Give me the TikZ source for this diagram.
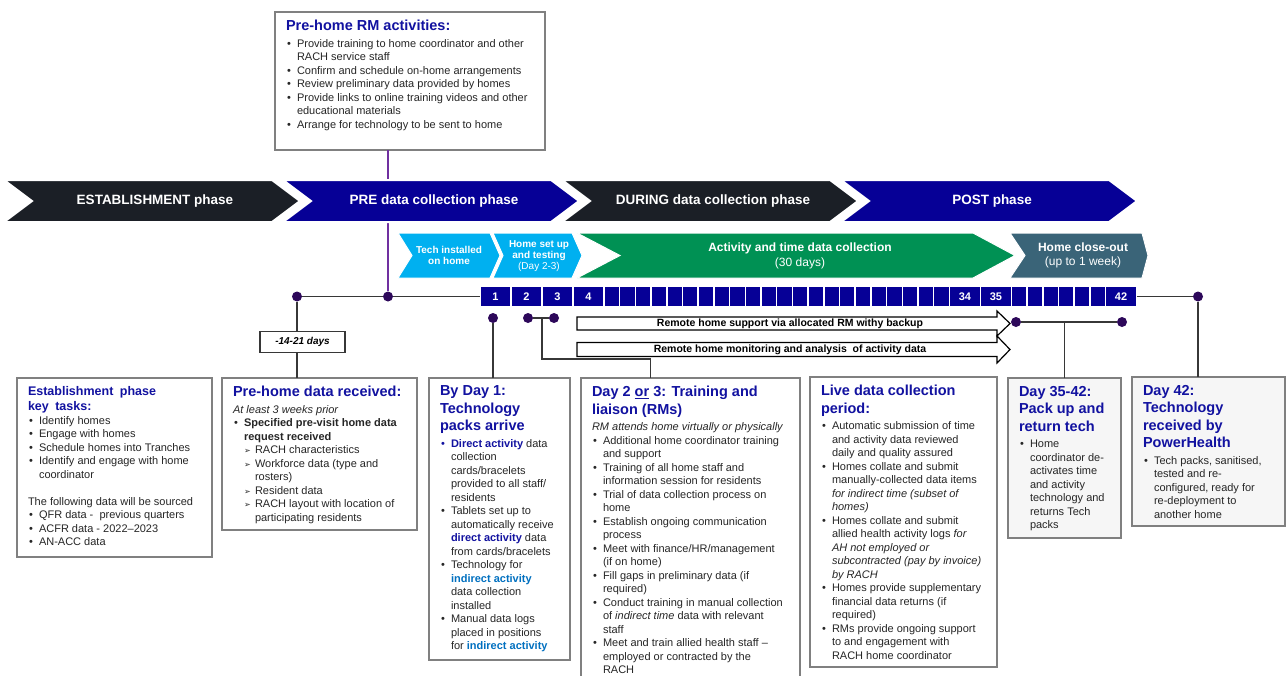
\documentclass[tikz,border=0pt]{standalone}
\usepackage{fontspec}
\setmainfont{Liberation Sans}
\newfontfamily\symfont{DejaVu Sans}
\usepackage{enumitem}
\usetikzlibrary{positioning}

\definecolor{phasedark}{RGB}{27,31,38}
\definecolor{phaseblue}{RGB}{6,0,150}
\definecolor{subcyan}{RGB}{0,176,240}
\definecolor{subgreen}{RGB}{0,145,84}
\definecolor{subslate}{RGB}{58,100,120}
\definecolor{titleblue}{RGB}{18,18,160}
\definecolor{lightblue}{RGB}{0,112,192}
\definecolor{dotpurple}{RGB}{45,8,90}
\definecolor{linkgray}{RGB}{55,55,55}
\definecolor{boxgray}{RGB}{128,128,128}
\definecolor{purpleline}{RGB}{112,48,160}
\definecolor{boxfill}{RGB}{246,246,246}
\definecolor{textgray}{RGB}{38,38,38}

\setlist[itemize,1]{nosep, leftmargin=11pt, labelwidth=6pt, labelsep=4pt, align=left, label={\textbullet}}
\setlist[itemize,2]{nosep, leftmargin=11pt, labelwidth=9pt, labelsep=2pt, align=left, label={\symfont\footnotesize ➢}}

\newcommand{\bodyfont}{\fontsize{11}{13.5}\selectfont}
\newcommand{\boxtitle}[1]{{\fontsize{14.5}{17.5}\selectfont\bfseries\color{titleblue}#1\par}\vspace{3pt}}
\newcommand{\boxbody}[3]{\parbox[t][#2][t]{#1}{\raggedright\bodyfont #3}}
\newcommand{\dact}[1]{\textbf{\textcolor{titleblue}{#1}}}
\newcommand{\iact}[1]{\textbf{\textcolor{lightblue}{#1}}}

\begin{document}
\begin{tikzpicture}[x=1pt, y=-1pt,
  tdot/.style={circle, fill=dotpurple, inner sep=0pt, minimum size=10pt},
  conn/.style={draw=linkgray, line width=1.3pt},
  infobox/.style={draw=boxgray, line width=1.8pt, fill=white, text=textgray, anchor=north west, inner xsep=11pt, inner ysep=8pt, outer sep=0pt},
  daycell/.style={fill=phaseblue, draw=white, line width=1.5pt, outer sep=0pt, inner sep=0pt, minimum height=20pt, text=white, font=\fontsize{11}{11}\selectfont\bfseries},
  bigday/.style={daycell, minimum width=31pt},
  smallday/.style={daycell, minimum width=15.7pt},
  phasetext/.style={text=white, font=\fontsize{13.5}{16}\selectfont\bfseries},
  subtext/.style={text=white, align=center, font=\fontsize{10}{11}\selectfont\bfseries},
  remote/.style={fill=white, draw=black, line width=1.2pt},
  remotetext/.style={inner sep=0pt, font=\fontsize{10.5}{12}\selectfont\bfseries}]
  \useasboundingbox (0,0) rectangle (1287,675);

  \node[infobox] (prebox) at (275,12) {\boxbody{248pt}{122pt}{%
    \boxtitle{Pre-home RM activities:}
    \begin{itemize}
      \item Provide training to home coordinator and other\\ RACH service staff
      \item Confirm and schedule on-home arrangements
      \item Review preliminary data provided by homes
      \item Provide links to online training videos and other\\ educational materials
      \item Arrange for technology to be sent to home
    \end{itemize}}};

  \node[tdot] (d1) at (297,296.5) {};
  \node[tdot] (d2) at (388,296.5) {};
  \draw[draw=purpleline, line width=1.3pt] (d2) -- (d2 |- prebox.south);

  % the four phases
  \foreach \x/\col/\txt [count=\i] in {4/phasedark/ESTABLISHMENT phase, 283/phaseblue/PRE data collection phase, 562/phasedark/DURING data collection phase, 841/phaseblue/POST phase} {
    \path[fill=\col, draw=white, line width=2pt] (\x,180) -- ++(268,0) -- ++(28,21) -- ++(-28,21) -- ++(-268,0) -- ++(28,-21) -- cycle;
    \node[phasetext] (phase\i) at (\x+151,201) {\txt};
  }

  \path[fill=subcyan, draw=white, line width=1pt] (398,233) -- (490,233) -- (500,255.5) -- (490,278) -- (398,278) -- (412,255.5) -- cycle;
  \node[subtext] (sub1) at (449,255.5) {Tech installed\\on home};
  \path[fill=subcyan, draw=white, line width=1pt] (493,233) -- (572,233) -- (582,255.5) -- (572,278) -- (493,278) -- (503,255.5) -- cycle;
  \node[subtext] (sub2) at (539,256.5) {Home set up\\and testing\\{\mdseries(Day 2-3)}};
  \path[fill=subgreen, draw=white, line width=1pt] (577,233) -- (973,233) -- (1015,255.5) -- (973,278) -- (577,278) -- (620,255.5) -- cycle;
  \node[subtext, font=\fontsize{12}{14.5}\selectfont\bfseries] (sub3) at (800,256) {Activity and time data collection\\{\mdseries(30 days)}};
  \path[fill=subslate, draw=white, line width=1pt] (1010,233) -- (1142,233) -- (1148,255.5) -- (1142,278) -- (1010,278) -- (1025,255.5) -- cycle;
  \node[subtext, font=\fontsize{12}{14}\selectfont\bfseries] (sub4) at (1083,255.5) {Home close-out\\{\mdseries(up to 1 week)}};

  % day row
  \node[bigday, anchor=west] (c1) at (480,296.5) {1};
  \foreach \i [remember=\i as \j (initially 1)] in {2,3,4}
    \node[bigday, right=0pt of c\j] (c\i) {\i};
  \foreach \i [remember=\i as \j (initially 4)] in {5,...,26}
    \node[smallday, right=0pt of c\j] (c\i) {};
  \node[bigday, right=0pt of c26] (c27) {34};
  \node[bigday, right=0pt of c27] (c28) {35};
  \foreach \i [remember=\i as \j (initially 28)] in {29,...,34}
    \node[smallday, right=0pt of c\j] (c\i) {};
  \node[bigday, right=0pt of c34] (c35) {42};

  \draw[conn] (d1) -- (d2) -- (c1);
  \node[tdot] (d3) at (1198,296.5) {};
  \draw[conn] (c35) -- (d3);

  \node[tdot] (t1) at (493,318) {};
  \node[tdot] (t2) at (528,318) {};
  \node[tdot] (t3) at (554,318) {};
  \draw[conn] (t2) -- (t3);
  \coordinate (t23) at (542,318);

  \path[remote] (577,317) -- (997,317) -- (997,311) -- (1010,323.5) -- (997,336) -- (997,330) -- (577,330) -- cycle;
  \node[remotetext] (rm1) at (790,323.5) {Remote home support via allocated RM withy backup};
  \path[remote] (577,342.5) -- (997,342.5) -- (997,336) -- (1010,349.5) -- (997,363) -- (997,356.5) -- (577,356.5) -- cycle;
  \node[remotetext] (rm2) at (790,349.5) {Remote home monitoring and analysis \ of activity data};

  \node[tdot] (r1) at (1016,322) {};
  \node[tdot] (r2) at (1122,322) {};
  \draw[conn] (r1) -- (r2);

  \node[draw=linkgray, line width=1.3pt, fill=white, minimum width=85pt, minimum height=21pt, inner sep=0pt, font=\fontsize{10}{10}\selectfont\bfseries\itshape] (daysbox) at (302.5,342) {-14-21 days};

  % boxes under the timeline
  \node[infobox] (estbox) at (17,378) {\boxbody{173pt}{163pt}{%
    {\fontsize{12.5}{15.5}\selectfont\bfseries\color{titleblue}Establishment\hspace{3pt} phase\\ key\hspace{3pt} tasks:\par}
    \begin{itemize}
      \item Identify homes
      \item Engage with homes
      \item Schedule homes into Tranches
      \item Identify and engage with home\\ coordinator
    \end{itemize}
    \vspace{13.5pt}
    The following data will be sourced
    \begin{itemize}
      \item QFR data - \ previous quarters
      \item ACFR data - 2022–2023
      \item AN-ACC data
    \end{itemize}}};

  \node[infobox] (databox) at (222,378) {\boxbody{173pt}{136pt}{%
    \boxtitle{Pre-home data received:}
    \textit{At least 3 weeks prior}\par
    \begin{itemize}
      \item \textbf{Specified pre-visit home data\\ request received}
      \begin{itemize}
        \item RACH characteristics
        \item Workforce data (type and\\ rosters)
        \item Resident data
        \item RACH layout with location of\\ participating residents
      \end{itemize}
    \end{itemize}}};

  \node[infobox] (day1box) at (429,378) {\boxbody{119pt}{266pt}{%
    \boxtitle{By Day 1:\\ Technology\\ packs arrive}
    \begin{itemize}
      \item[\textcolor{titleblue}{\textbullet}] \dact{Direct activity} data\\ collection\\ cards/bracelets\\ provided to all staff/\\ residents
      \item Tablets set up to\\ automatically receive\\ \dact{direct activity} data\\ from cards/bracelets
      \item Technology for\\ \iact{indirect activity}\\ data collection\\ installed
      \item Manual data logs\\ placed in positions\\ for \iact{indirect activity}
    \end{itemize}}};

  \node[infobox] (day23box) at (581,378) {\boxbody{197pt}{284pt}{%
    \boxtitle{Day 2 \underline{or} 3: Training and\\ liaison (RMs)}
    \textit{RM attends home virtually or physically}\par
    \begin{itemize}
      \item Additional home coordinator training\\ and support
      \item Training of all home staff and\\ information session for residents
      \item Trial of data collection process on\\ home
      \item Establish ongoing communication\\ process
      \item Meet with finance/HR/management\\ (if on home)
      \item Fill gaps in preliminary data (if\\ required)
      \item Conduct training in manual collection\\ of \textit{indirect time} data with relevant\\ staff
      \item Meet and train allied health staff –\\ employed or contracted by the\\ RACH
    \end{itemize}}};

  \node[infobox] (livebox) at (810,377) {\boxbody{165pt}{274pt}{%
    \boxtitle{Live data collection\\ period:}
    \begin{itemize}
      \item Automatic submission of time\\ and activity data reviewed\\ daily and quality assured
      \item Homes collate and submit\\ manually-collected data items\\ \textit{for indirect time (subset of\\ homes)}
      \item Homes collate and submit\\ allied health activity logs \textit{for\\ AH not employed or\\ subcontracted (pay by invoice)\\ by RACH}
      \item Homes provide supplementary\\ financial data returns (if\\ required)
      \item RMs provide ongoing support\\ to and engagement with\\ RACH home coordinator
    \end{itemize}}};

  \node[infobox, fill=boxfill] (day35box) at (1008,378) {\boxbody{91pt}{144pt}{%
    \boxtitle{Day 35-42:\\ Pack up and\\ return tech}
    \begin{itemize}
      \item Home\\ coordinator de-\\activates time\\ and activity\\ technology and\\ returns Tech\\ packs
    \end{itemize}}};

  \node[infobox, fill=boxfill] (day42box) at (1132,377) {\boxbody{131pt}{133pt}{%
    \boxtitle{Day 42:\\ Technology\\ received by\\ PowerHealth}
    \begin{itemize}
      \item Tech packs, sanitised,\\ tested and re-\\configured, ready for\\ re-deployment to\\ another home
    \end{itemize}}};

  \draw[conn] (d1) -- (d1 |- daysbox.north);
  \draw[conn] (d1 |- daysbox.south) -- (d1 |- databox.north);
  \draw[conn] (t1) -- (t1 |- day1box.north);
  \draw[conn] (t23) -- ++(0,41) -| ([xshift=-40pt]day23box.north);
  \draw[conn] (day35box.north) -- (day35box.north |- r1);
  \draw[conn] (d3) -- (d3 |- day42box.north);
\end{tikzpicture}
\end{document}
